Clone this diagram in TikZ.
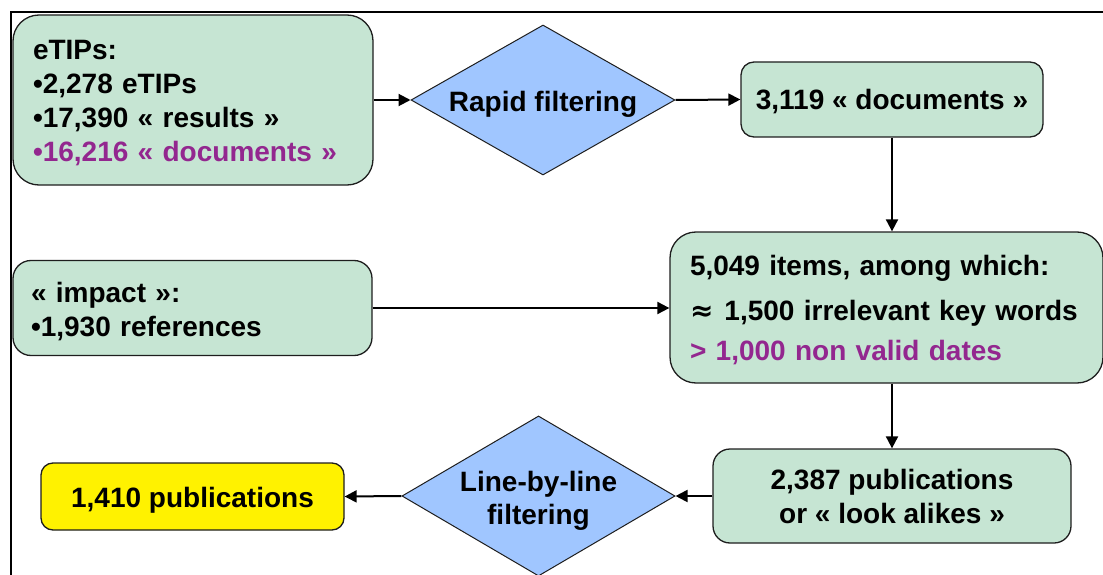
\documentclass[tikz,border=0pt]{standalone}
\usepackage{fontspec}
\setmainfont{Liberation Sans}
\newfontfamily\symfont{DejaVu Sans}
\usetikzlibrary{shapes.geometric,arrows.meta}

\definecolor{boxgreen}{HTML}{C6E5D3}
\definecolor{diamblue}{HTML}{A0C6FF}
\definecolor{purp}{HTML}{93278F}
\definecolor{edge}{HTML}{1E1E1E}

% invisible struts fixing the height of the first line and the depth of the last one
\newcommand\TopRule[1]{\rule{0pt}{#1}}
\newcommand\BotRule[1]{\rule[-#1]{0pt}{#1}}

\tikzset{
  every node/.style={font=\fontsize{28}{34}\selectfont\bfseries},
  greenbox/.style={draw=edge, line width=1.3pt, fill=boxgreen, inner sep=0pt},
  decision/.style={diamond, draw=edge, line width=1pt, fill=diamblue, inner sep=0pt,
                   align=center, shape aspect=1.706},
  flow/.style={line width=2pt, -{Triangle[length=12pt,width=12pt]}},
  frameline/.style={line width=2pt}
}

\begin{document}
\begin{tikzpicture}[x=1pt,y=-1pt]
\useasboundingbox (0,0) rectangle (1103,575);

% page frame
\draw[frameline] (11,576) -- (11,12) -- (1104,12);

% source counts
\node[greenbox, rounded corners=26pt, minimum width=360pt, minimum height=170pt,
      text width=320pt, align=left] (etips) at (193,100)
  {\TopRule{30pt}eTIPs:\\•2,278 eTIPs\\•17,390 « results »\\{\color{purp}•16,216 « documents »}\BotRule{8pt}};

\node[greenbox, rounded corners=18pt, minimum width=359pt, minimum height=95pt,
      text width=323pt, align=left] (impact) at (192.5,308)
  {\TopRule{28pt}« impact »:\\•1,930 references\BotRule{6pt}};

% first filter
\node[decision, minimum width=264pt, minimum height=150pt] (rapid) at (543,100)
  {\TopRule{30pt}\BotRule{6pt}Rapid filtering};

\node[greenbox, rounded corners=13pt, minimum width=302pt, minimum height=75pt]
  (docs) at (892,99.5) {\TopRule{27pt}\BotRule{6pt}3,119 « documents »};

% merged items
\node[greenbox, rounded corners=26pt, minimum width=433pt, minimum height=151pt,
      text width=393pt, align=left] (items) at (886.5,307.5)
  {\TopRule{26pt}5,049 items, among which:\\[11pt]{\symfont ≈}\hspace{11pt}1,500 irrelevant key words\\[6pt]{\color{purp}> 1,000 non valid dates}\BotRule{6pt}};

\node[greenbox, rounded corners=17pt, minimum width=358pt, minimum height=94pt,
      align=center] (pubs) at (892,496)
  {\TopRule{26pt}2,387 publications\\or « look alikes »\BotRule{6pt}};

% second filter
\node[decision, minimum width=273pt, minimum height=160pt] (line) at (538.5,496)
  {\TopRule{29pt}Line-by-line\\[-1pt]filtering\BotRule{6pt}};

\node[draw=edge, line width=1.3pt, fill=yellow, rounded corners=12pt, inner sep=0pt,
      minimum width=303pt, minimum height=67pt] (final) at (192.5,496.5)
  {\TopRule{27pt}\BotRule{6pt}1,410 publications};

% connectors
\draw[flow] (etips.east) -- (rapid.west);
\draw[flow] (rapid.east) -- (docs.west);
\draw[flow] (docs.south) -- (docs.south |- items.north);
\draw[flow] (impact.east) -- (impact.east -| items.west);
\draw[flow] (pubs.north |- items.south) -- (pubs.north);
\draw[flow] (pubs.west) -- (line.east);
\draw[flow] (line.west) -- (final.east);
\end{tikzpicture}
\end{document}
